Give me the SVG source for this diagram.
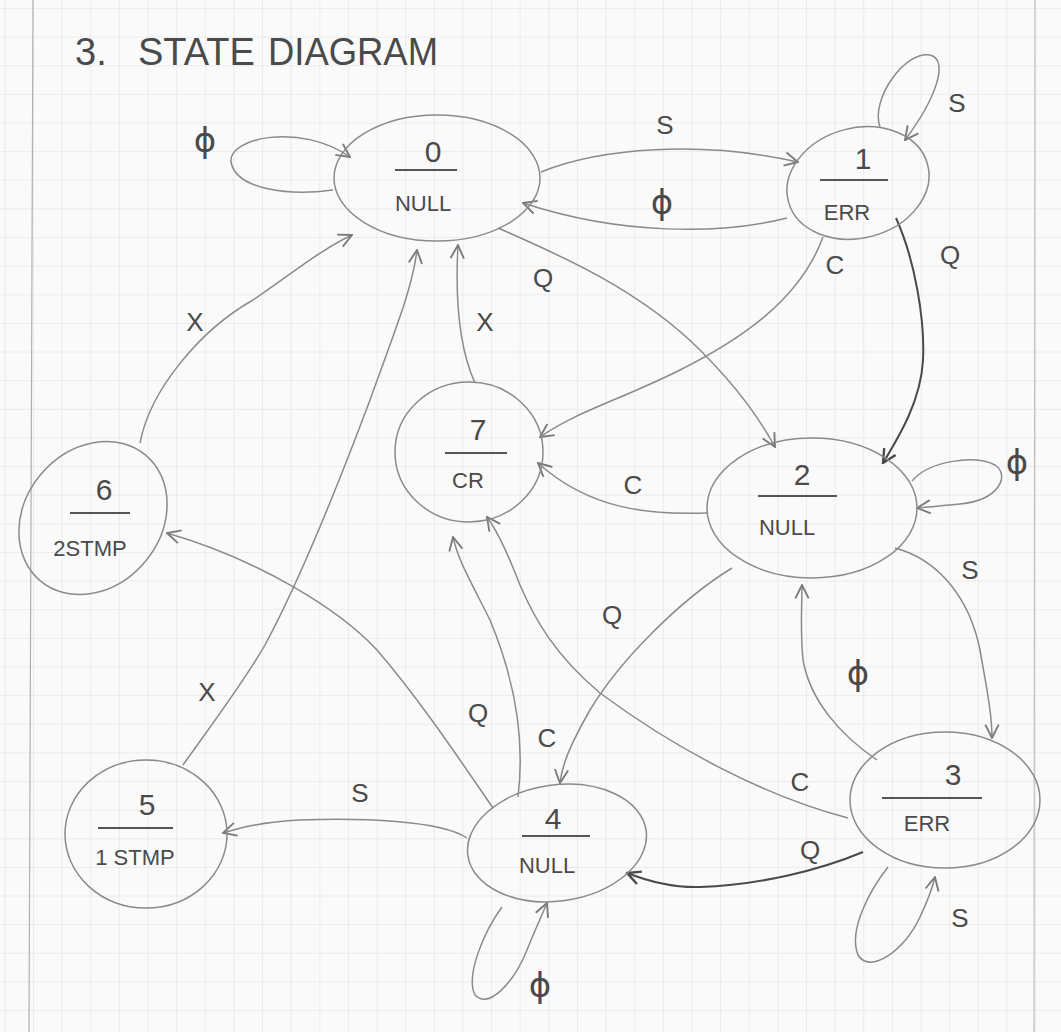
<svg xmlns="http://www.w3.org/2000/svg" width="1061" height="1032" viewBox="0 0 1061 1032">
<defs>
<pattern id="grid" width="28.63" height="28.63" patternUnits="userSpaceOnUse" x="33" y="8">
<path d="M0,0 H28.63 M0,0 V28.63" fill="none" stroke="#dedede" stroke-width="1"/>
</pattern>
<marker id="ah" viewBox="0 0 12 12" refX="11" refY="6" markerWidth="16" markerHeight="16" markerUnits="userSpaceOnUse" orient="auto">
<path d="M1,1 L11,6 L1,11" fill="none" stroke="#7a7a7a" stroke-width="1.4"/>
</marker>
<marker id="ahd" viewBox="0 0 12 12" refX="11" refY="6" markerWidth="16" markerHeight="16" markerUnits="userSpaceOnUse" orient="auto">
<path d="M1,1 L11,6 L1,11" fill="none" stroke="#4a4a4a" stroke-width="1.8"/>
</marker>
</defs>
<style>
.node ellipse{fill:none;stroke:#8a8a8a;stroke-width:1.5}
.div{stroke:#555;stroke-width:2}
.num{font-family:"Liberation Sans",Arial,sans-serif;font-size:30px;fill:#4a4a4a;text-anchor:middle}
.name{font-family:"Liberation Sans",Arial,sans-serif;font-size:22px;fill:#4a4a4a;text-anchor:middle}
.e{fill:none;stroke:#8a8a8a;stroke-width:1.5;marker-end:url(#ah)}
.ed{fill:none;stroke:#4a4a4a;stroke-width:2;marker-end:url(#ahd)}
.lbl{font-family:"Liberation Sans",Arial,sans-serif;font-size:26px;fill:#4a4a4a;text-anchor:middle;dominant-baseline:central}
.phi{font-family:"DejaVu Sans",sans-serif;font-size:34px}
.title{font-family:"Liberation Sans",Arial,sans-serif;font-size:38px;fill:#4a4a4a}
</style>
<rect width="1061" height="1032" fill="#fafafa"/>
<rect width="1061" height="1032" fill="url(#grid)"/>
<line x1="33" y1="0" x2="29" y2="1032" stroke="#b0b0b0" stroke-width="1.2"/>
<line x1="1035" y1="0" x2="1034" y2="1032" stroke="#c0c0c0" stroke-width="1.2"/>

<text class="title" y="65"><tspan x="75">3.</tspan><tspan x="138">STATE</tspan><tspan x="268" textLength="170" lengthAdjust="spacingAndGlyphs">DIAGRAM</tspan></text>

<g id="connectors">
<path id="e00" class="e" d="M333,190 C290,196 236,190 231,162 C228,138 300,122 350,157"/>
<path id="e01" class="e" d="M541,172 C600,148 700,140 798,162"/>
<path id="e10" class="e" d="M787,218 C720,235 620,235 523,203"/>
<path id="e11" class="e" d="M880,127 C870,100 905,50 930,55 C950,60 935,100 905,140"/>
<path id="e12" class="ed" d="M896,218 C915,260 925,320 923,360 C921,400 900,435 883,463"/>
<path id="e17" class="e" d="M823,237 C800,300 740,340 680,370 C620,400 580,410 540,437"/>
<path id="e02" class="e" d="M498,228 C560,255 640,290 700,350 C740,390 760,420 775,447"/>
<path id="e70" class="e" d="M475,383 C460,350 455,300 458,245"/>
<path id="e50" class="e" d="M183,765 C215,720 245,680 265,645 C300,580 340,480 370,400 C395,330 412,290 417,250"/>
<path id="e60" class="e" d="M140,443 C150,390 200,330 253,300 C290,275 320,250 352,235"/>
<path id="e27" class="e" d="M707,513 C650,515 590,510 538,463"/>
<path id="e22" class="e" d="M912,481 C930,460 975,455 995,465 C1010,475 1000,500 960,504 C940,506 928,507 917,508"/>
<path id="e23" class="e" d="M895,548 C940,560 970,600 980,650 C987,690 992,715 992,738"/>
<path id="e32" class="e" d="M877,760 C840,735 810,700 803,660 C800,630 802,605 802,585"/>
<path id="e24" class="e" d="M732,568 C680,600 620,660 590,710 C570,745 562,765 560,783"/>
<path id="e47" class="e" d="M518,797 C525,740 515,680 490,620 C470,580 458,560 453,537"/>
<path id="e37" class="e" d="M848,818 C760,795 670,745 600,693 C555,655 535,620 520,585 C510,560 500,535 487,517"/>
<path id="e46" class="e" d="M493,808 C460,760 420,700 377,650 C340,610 260,560 167,533"/>
<path id="e45" class="e" d="M467,838 C440,820 360,818 300,820 C260,822 240,828 223,833"/>
<path id="e34" class="ed" d="M863,852 C820,870 760,885 700,887 C670,888 645,880 627,873"/>
<path id="e33" class="e" d="M888,867 C870,890 848,930 858,955 C870,975 905,950 920,917 C928,900 932,890 935,877"/>
<path id="e44" class="e" d="M502,907 C485,930 465,975 475,995 C490,1010 515,980 527,950 C535,930 542,915 547,903"/>

<text class="lbl phi" x="205" y="140">ϕ</text>
<text class="lbl" x="665" y="125">S</text>
<text class="lbl phi" x="662" y="202">ϕ</text>
<text class="lbl" x="957" y="103">S</text>
<text class="lbl" x="950" y="255">Q</text>
<text class="lbl" x="835" y="265">C</text>
<text class="lbl" x="543" y="278">Q</text>
<text class="lbl" x="485" y="322">X</text>
<text class="lbl" x="195" y="322">X</text>
<text class="lbl" x="207" y="692">X</text>
<text class="lbl" x="633" y="485">C</text>
<text class="lbl phi" x="1017" y="462">ϕ</text>
<text class="lbl" x="970" y="570">S</text>
<text class="lbl phi" x="858" y="673">ϕ</text>
<text class="lbl" x="612" y="615">Q</text>
<text class="lbl" x="478" y="713">Q</text>
<text class="lbl" x="547" y="738">C</text>
<text class="lbl" x="800" y="782">C</text>
<text class="lbl" x="360" y="793">S</text>
<text class="lbl" x="810" y="850">Q</text>
<text class="lbl" x="960" y="918">S</text>
<text class="lbl phi" x="540" y="985">ϕ</text>
</g>

<g id="node0" class="node">
<ellipse cx="437" cy="178" rx="103" ry="63"/>
<text class="num" x="433" y="162">0</text>
<line class="div" x1="395" y1="170" x2="457" y2="170"/>
<text class="name" x="423" y="211">NULL</text>
</g>
<g id="node1" class="node">
<ellipse cx="858" cy="183" rx="72" ry="55" transform="rotate(-15 858 183)"/>
<text class="num" x="863" y="169">1</text>
<line class="div" x1="820" y1="180" x2="888" y2="180"/>
<text class="name" x="847" y="220">ERR</text>
</g>
<g id="node2" class="node">
<ellipse cx="812" cy="508" rx="105" ry="70"/>
<text class="num" x="802" y="485">2</text>
<line class="div" x1="758" y1="496" x2="837" y2="496"/>
<text class="name" x="787" y="535">NULL</text>
</g>
<g id="node3" class="node">
<ellipse cx="945" cy="800" rx="95" ry="68"/>
<text class="num" x="953" y="785">3</text>
<line class="div" x1="882" y1="798" x2="982" y2="798"/>
<text class="name" x="927" y="831">ERR</text>
</g>
<g id="node4" class="node">
<ellipse cx="557" cy="843" rx="90" ry="58" transform="rotate(-8 557 843)"/>
<text class="num" x="553" y="829">4</text>
<line class="div" x1="522" y1="836" x2="590" y2="836"/>
<text class="name" x="547" y="873">NULL</text>
</g>
<g id="node5" class="node">
<ellipse cx="146" cy="834" rx="81" ry="74"/>
<text class="num" x="147" y="815">5</text>
<line class="div" x1="98" y1="828" x2="173" y2="828"/>
<text class="name" x="135" y="865">1 STMP</text>
</g>
<g id="node6" class="node">
<ellipse cx="93" cy="518" rx="82" ry="68" transform="rotate(-50 93 518)"/>
<text class="num" x="104" y="500">6</text>
<line class="div" x1="70" y1="513" x2="130" y2="513"/>
<text class="name" x="90" y="556">2STMP</text>
</g>
<g id="node7" class="node">
<ellipse cx="469" cy="452" rx="74" ry="70"/>
<text class="num" x="478" y="440">7</text>
<line class="div" x1="445" y1="453" x2="507" y2="453"/>
<text class="name" x="468" y="488">CR</text>
</g>
</svg>
